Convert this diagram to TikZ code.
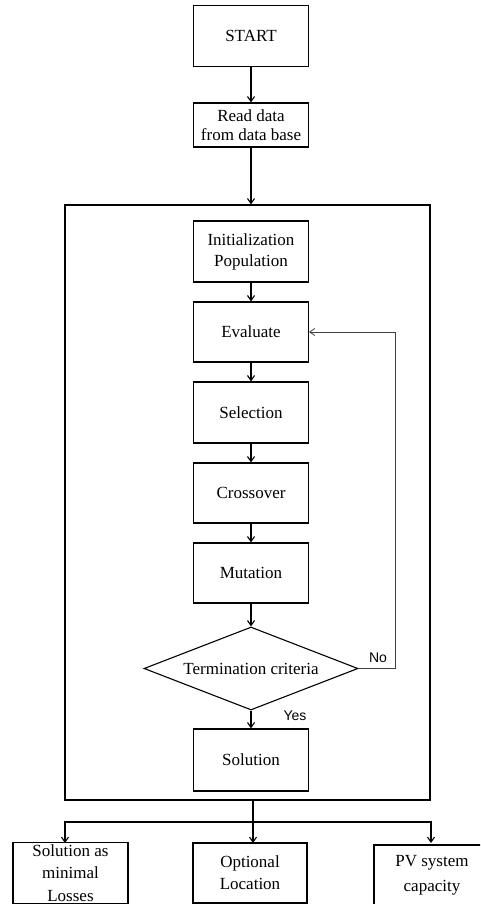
\documentclass[tikz,border=0pt]{standalone}
\usepackage{fontspec}
\setmainfont{Liberation Serif}
\newfontfamily\labelsans{Liberation Sans}
\usetikzlibrary{shapes.geometric,arrows.meta}

\begin{document}
\begin{tikzpicture}[x=1pt,y=-1pt,
  line width=1.1pt,
  every node/.style={font=\fontsize{17}{21}\selectfont},
  procbox/.style={draw, rectangle, align=center, minimum width=115, inner sep=2pt},
  decision/.style={draw, diamond, aspect=2.58, minimum width=214, minimum height=83, inner sep=0pt},
  flow/.style={-{Straight Barb[length=5pt,width=7pt]}},
  loopline/.style={flow, line width=0.8pt, draw=black!75},
  branch/.style={font=\labelsans\fontsize{14}{16}\selectfont}
]
\useasboundingbox (0,0) rectangle (480,904);
\fill[white] (0,0) rectangle (480,904);
\clip (0,0) rectangle (480,904);

% main column
\node[procbox, minimum height=61] (start) at (251,36) {START};
\node[procbox, minimum height=44, font=\fontsize{17}{19}\selectfont] (read) at (251,125) {Read data\\from data base};

% frame around the genetic algorithm loop
\node[draw, rectangle, minimum width=365, minimum height=595, inner sep=0pt] (frame) at (247.5,502.5) {};

\node[procbox, minimum height=61] (init) at (251,251.5) {Initialization\\Population};
\node[procbox, minimum height=60] (eval) at (251,332) {Evaluate};
\node[procbox, minimum height=61] (sel) at (251,412.5) {Selection};
\node[procbox, minimum height=60] (cross) at (251,493) {Crossover};
\node[procbox, minimum height=60] (mut) at (251,573) {Mutation};
\node[decision] (term) at (251,668.5) {Termination criteria};
\node[procbox, minimum height=62] (sol) at (251,760) {Solution};

% results
\node[procbox, minimum height=60, font=\fontsize{17}{22.5}\selectfont] (loss) at (70.5,873) {Solution as\\minimal\\Losses};
\node[procbox, minimum height=60, minimum width=114, font=\fontsize{17}{22}\selectfont] (loc) at (250,873) {Optional\\Location};
\node[procbox, minimum height=60, minimum width=116, font=\fontsize{17}{25}\selectfont] (pv) at (432,875) {PV system\\capacity};

% connectors
\draw[flow] (start) -- (read);
\draw[flow] (read) -- (read |- frame.north);
\draw[flow] (init) -- (eval);
\draw[flow] (eval) -- (sel);
\draw[flow] (sel) -- (cross);
\draw[flow] (cross) -- (mut);
\draw[flow] (mut) -- (term);
\draw[flow] (term) -- (sol);
\draw[loopline] (term.east) -- ++(37,0) |- (eval.east);
\node[branch, anchor=center] (no) at (378,658) {No};
\node[branch, anchor=center] (yes) at (295,716) {Yes};

\coordinate (split) at (253,822);
\draw (253,800) -- (split);
\draw[flow] (split) -| (65,843);
\draw[flow] (split) -- (253,843);
\draw[flow] (split) -| (431,843);
\end{tikzpicture}
\end{document}
